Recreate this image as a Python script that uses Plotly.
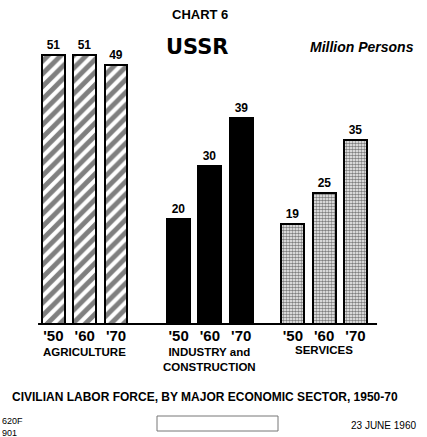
import plotly.graph_objects as go

# ---- data ----
years = ["'50", "'60", "'70"]
sectors = ["AGRICULTURE", "INDUSTRY and<br>CONSTRUCTION", "SERVICES"]
agriculture = [51, 51, 49]
industry = [20, 30, 39]
services = [19, 25, 35]

# ---- layout helpers ----
W, H = 427, 437
T, B = 40, 112
PH = H - T - B
group_offsets = [0.0, 4.0, 7.65]
BAR_W = 0.73

def px(x):
    return x / W

def py(y):
    return (H - B - y) / PH

fig = go.Figure()

styles = [
    dict(color="white", pattern=dict(shape="/", fgcolor="black", bgcolor="white", size=9, solidity=0.55)),
    dict(color="black"),
    dict(color="white", pattern=dict(shape=".", fgcolor="black", bgcolor="white", size=3, solidity=0.6)),
]

all_x, all_t = [], []
for g, (vals, st) in enumerate(zip([agriculture, industry, services], styles)):
    xs = [group_offsets[g] + i for i in range(len(vals))]
    all_x += xs
    all_t += years
    fig.add_trace(go.Bar(
        x=xs, y=vals, width=BAR_W,
        marker=dict(line=dict(color="black", width=2), **st),
        text=[str(v) for v in vals], textposition="outside",
        textfont=dict(family="Liberation Sans", size=12, color="black", weight="bold"),
        cliponaxis=False, showlegend=False, hoverinfo="skip",
    ))

fig.add_shape(type="line", xref="x", yref="y", x0=-0.49, x1=10.34, y0=0, y1=0,
              line=dict(color="black", width=4))

def note(text, x, y, size, xanchor="center", yanchor="middle", xref="paper", family="Liberation Sans",
         weight="bold", align="center"):
    fig.add_annotation(x=x, y=py(y), xref=xref, yref="paper", text=text, showarrow=False,
                       xanchor=xanchor, yanchor=yanchor, align=align,
                       font=dict(family=family, size=size, color="black", weight=weight))

label_y = [352, 359.5, 350]
for g, name in enumerate(sectors):
    note(name, group_offsets[g] + 1, label_y[g], 11.5, xref="x")

note("CHART 6", px(200), 15, 13)
note("USSR", px(197), 47, 21, family="DejaVu Sans")
note("<i>Million Persons</i>", px(362), 47, 14)
note("CIVILIAN LABOR FORCE, BY MAJOR ECONOMIC SECTOR, 1950-70", px(205), 397, 12)
note("620F<br>901", px(0), 427, 9, xanchor="left", weight="normal", align="left")
note("23 JUNE 1960", px(383), 425, 10, weight="normal")

fig.add_shape(type="rect", xref="paper", yref="paper", x0=px(157), x1=px(278), y0=py(431), y1=py(416),
              line=dict(color="#777", width=1), fillcolor="white")

fig.update_layout(
    width=W, height=H,
    margin=dict(l=0, r=0, t=T, b=B),
    paper_bgcolor="white", plot_bgcolor="white",
    bargap=0,
    xaxis=dict(range=[-53.4 / 31.3, (W - 53.4) / 31.3], tickvals=all_x, ticktext=all_t,
               showgrid=False, zeroline=False, showline=False, ticks="",
               tickfont=dict(family="Liberation Sans", size=15, color="black", weight="bold")),
    yaxis=dict(range=[0, PH / 5.3], visible=False, showgrid=False, zeroline=False),
)

fig.write_html("out.html", config={"displayModeBar": False},
               post_script="document.body.style.margin='0';document.body.style.overflow='hidden';")
